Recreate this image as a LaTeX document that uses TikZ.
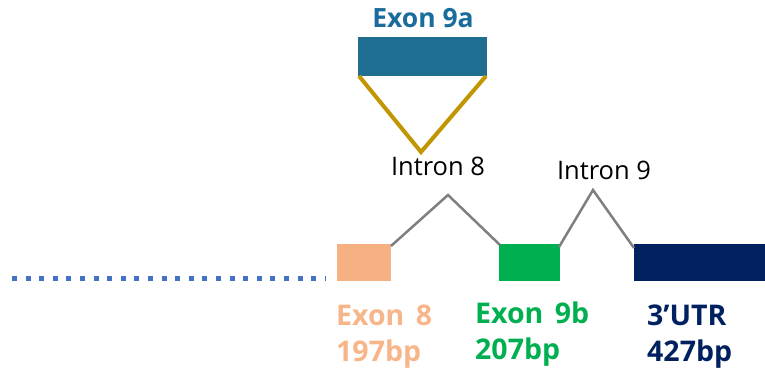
\documentclass[tikz,border=0pt]{standalone}
\usepackage{fontspec}
\setmainfont{Open Sans}
\definecolor{exnine}{HTML}{1F6E91}
\definecolor{exninetxt}{HTML}{1A6C9C}
\definecolor{gold}{HTML}{C29600}
\definecolor{peach}{HTML}{F6B183}
\definecolor{peachtxt}{HTML}{F7B68A}
\definecolor{grn}{HTML}{00B050}
\definecolor{navy}{HTML}{002060}
\definecolor{intr}{HTML}{7F7F7F}
\definecolor{dots}{HTML}{4472C4}
\begin{document}
\begin{tikzpicture}[x=1pt,y=-1pt,
  lbl/.style={font=\bfseries\fontsize{28.5}{36}\selectfont, align=left, inner sep=0pt},
  intronlbl/.style={font=\fontsize{25.5}{30}\selectfont, inner sep=0pt},
  intronline/.style={draw=intr, line width=2.5pt, line join=miter},
  goldline/.style={draw=gold, line width=4pt, line join=miter}]
\useasboundingbox (0,0) rectangle (765,377);
% exon 9a
\fill[exnine] (358,37) rectangle (487,76);
\coordinate (a9l) at (359,76);
\coordinate (a9r) at (486,76);
\coordinate (a9v) at (421,152);
\draw[goldline] (a9l) -- (a9v) -- (a9r);
\node[font=\bfseries\fontsize{26.5}{30}\selectfont, text=exninetxt, inner sep=0pt] (t9a) at (423,18) {Exon 9a};
% exons
\fill[peach] (337,244) rectangle (391,281);
\fill[grn] (499,244) rectangle (560,281);
\fill[navy] (634,244) rectangle (765,281);
\coordinate (e8r) at (391,246);
\coordinate (i8) at (448,195);
\coordinate (e9l) at (500,245);
\coordinate (e9r) at (559,247);
\coordinate (i9) at (593,190);
\coordinate (utl) at (634,248);
\draw[intronline] (e8r) -- (i8) -- (e9l);
\draw[intronline] (e9r) -- (i9) -- (utl);
\node[intronlbl] (ti8) at (438,166) {Intron 8};
\node[intronlbl] (ti9) at (604,170) {Intron 9};
% dotted upstream
\coordinate (d0) at (12,278);
\coordinate (d1) at (326,278);
\draw[dots, line width=5pt, dash pattern=on 5pt off 8.6pt] (d0) -- (d1);
% labels
\node[lbl, text=peachtxt, anchor=west] (l8) at (336,337) {Exon\hspace{0.4em}8\\197bp};
\node[lbl, text=grn, anchor=west] (l9) at (475,334) {Exon\hspace{0.4em}9b\\207bp};
\node[lbl, text=navy, anchor=west] (lu) at (647,337) {3’UTR\\427bp};
\end{tikzpicture}
\end{document}
